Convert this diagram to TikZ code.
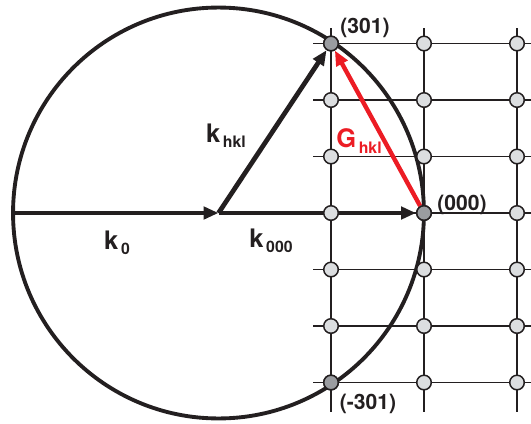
\documentclass[tikz,border=0pt]{standalone}
\usepackage{fontspec}
\setmainfont{TeX Gyre Heros}
\usetikzlibrary{arrows.meta,positioning,backgrounds}
\definecolor{ered}{HTML}{EC1C24}
\definecolor{elight}{HTML}{DCDEE0}
\definecolor{edark}{HTML}{9A9CA0}
\definecolor{eink}{HTML}{231F20}
\tikzset{
  >={Triangle[length=8.5pt,width=7pt]},
  egrid/.style={eink, line width=1pt},
  esphere/.style={eink, line width=2.2pt},
  ewave/.style={->, eink, line width=2.7pt},
  erecip/.style={->, ered, line width=2.5pt},
  epoint/.style={circle, draw=eink, fill=elight, line width=0.85pt,
                 minimum size=8.3pt, inner sep=0pt},
  ehit/.style={epoint, fill=edark},
  elbl/.style={eink, font=\bfseries\fontsize{12}{12}\selectfont, inner sep=0pt},
  evec/.style={eink, font=\bfseries\fontsize{14.5}{14.5}\selectfont, inner sep=0pt},
}
\newcommand{\vsub}[1]{\kern1.5pt\raisebox{-3pt}{\fontsize{9}{9}\selectfont #1}}

\begin{document}
\begin{tikzpicture}[x=0.02cm, y=-0.02cm]

  \useasboundingbox (0,0) rectangle (531,423);

  \coordinate (kin) at (15,213);
  \coordinate (O) at (218.5,213);

  % reziprokes gitter
  \foreach \x [count=\c from 0] in {331,424,517}
    \foreach \r in {0,...,6}
      \node[epoint] (p-\c-\r) at (\x,{43.5+56.5*\r}) {};
  \foreach \n in {p-0-0,p-1-3,p-0-6}
    \node[ehit] at (\n) {};

  \begin{scope}[on background layer]
    \foreach \x in {331,424,517}
      \draw[egrid] (\x,28) -- (\x,412);
    \foreach \r in {0,...,6}
      \draw[egrid] (313,{43.5+56.5*\r}) -- (531,{43.5+56.5*\r});

    % ewald-kugel
    \draw[esphere] (O) circle[radius=4.11cm];

    % wellenvektoren
    \draw[ewave] (kin) -- (O);
    \draw[ewave] (O) -- (p-1-3);
    \draw[ewave] (O) -- (p-0-0);
    \draw[erecip] (p-1-3) -- (p-0-0);
  \end{scope}

  % beschriftung
  \node[elbl] (l301) at (365,28) {(301)};
  \node[elbl] (l000) at (462,205) {(000)};
  \node[elbl] (lm301) at (368,404) {(-301)};
  \node[evec] (lk0) at (117,243) {k\vsub{0}};
  \node[evec] (lk000) at (271,241) {k\vsub{000}};
  \node[evec] (lkhkl) at (226,136) {k\vsub{hkl}};
  \node[evec, ered] (lG) at (359,141) {G\vsub{hkl}};

\end{tikzpicture}
\end{document}
